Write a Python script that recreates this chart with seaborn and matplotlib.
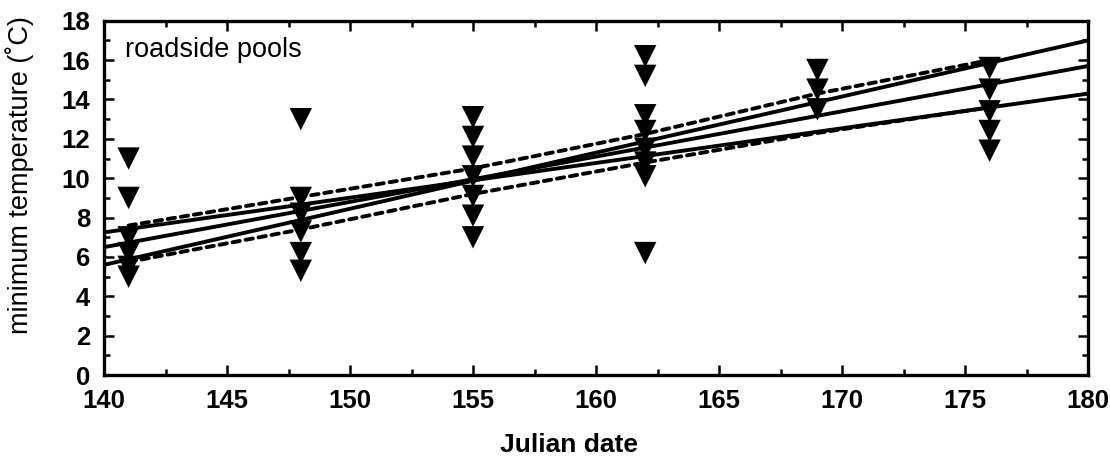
import numpy as np
import pandas as pd
import matplotlib
matplotlib.use("Agg")
import matplotlib.pyplot as plt
import seaborn as sns
from matplotlib.ticker import MultipleLocator

# ---- data ----
dates = [141, 148, 155, 162, 169, 176]
temps_141 = [11.0, 9.0, 7.0, 6.2, 5.5, 5.0]
temps_148 = [13.0, 9.0, 8.2, 7.3, 6.2, 5.3]
temps_155 = [13.1, 12.1, 11.1, 10.1, 9.1, 8.1, 7.0]
temps_162 = [16.2, 15.2, 13.2, 12.4, 11.5, 10.8, 10.1, 6.2]
temps_169 = [15.5, 14.5, 13.5]
temps_176 = [15.6, 14.5, 13.4, 12.4, 11.4]

fit_x = [140, 180]
fit_steep = [5.6, 17.0]
fit_mid = [6.5, 15.7]
fit_shallow = [7.25, 14.3]

band_x = [141, 148, 155, 162, 169, 176]
band_upper = [7.6, 9.05, 10.5, 12.25, 14.3, 16.0]
band_lower = [5.75, 7.4, 9.2, 10.8, 12.3, 13.6]

x_ticks = [140, 145, 150, 155, 160, 165, 170, 175, 180]
y_ticks = [0, 2, 4, 6, 8, 10, 12, 14, 16, 18]

# ---- build tables ----
all_temps = [temps_141, temps_148, temps_155, temps_162, temps_169, temps_176]
pts = pd.DataFrame(
    [(d, t) for d, ts in zip(dates, all_temps) for t in ts],
    columns=["date", "temp"],
)

sns.set_theme(style="ticks")
plt.rcParams["font.family"] = ["Liberation Sans", "DejaVu Sans"]
plt.rcParams.update({
    "text.color": "black",
    "axes.labelcolor": "black",
    "xtick.color": "black",
    "ytick.color": "black",
    "axes.edgecolor": "black",
})

fig = plt.figure(figsize=(11.1, 4.66), dpi=100)
ax = fig.add_axes([0.0937, 0.195, 0.8865, 0.7605])

lw = 2.8
for vals in (fit_steep, fit_mid, fit_shallow):
    sns.lineplot(x=fit_x, y=vals, ax=ax, color="black", linewidth=lw,
                 solid_capstyle="butt")
for vals in (band_upper, band_lower):
    sns.lineplot(x=band_x, y=vals, ax=ax, color="black", linewidth=lw,
                 linestyle=(0, (1.9, 1.5)), dash_capstyle="round")

sns.scatterplot(data=pts, x="date", y="temp", ax=ax, marker="v", s=260,
                color="black", edgecolor="none", zorder=5)

ax.set_xlim(140, 180)
ax.set_ylim(0, 18)
ax.set_xticks(x_ticks)
ax.set_yticks(y_ticks)
ax.xaxis.set_minor_locator(MultipleLocator(2.5))
ax.yaxis.set_minor_locator(MultipleLocator(1))
ax.tick_params(which="both", direction="in", top=True, right=True,
               color="black", labelcolor="black", width=1.8)
ax.tick_params(which="major", length=7, labelsize=18.5, pad=10)
ax.tick_params(which="minor", length=4)
for lab in ax.get_xticklabels() + ax.get_yticklabels():
    lab.set_fontweight("bold")

for sp in ax.spines.values():
    sp.set_linewidth(2.4)
    sp.set_color("black")

ax.set_xlabel("Julian date", fontsize=19, fontweight="bold", va="center",
              color="black")
ax.xaxis.set_label_coords(0.4726, -0.198)
ax.set_ylabel("minimum temperature (\u02daC)", fontsize=19.5, va="center",
              ha="center", color="black")
ax.yaxis.set_label_coords(-0.0854, 0.5645)

ax.text(0.0213, 0.917, "roadside pools", transform=ax.transAxes,
        fontsize=19.5, va="center", ha="left", color="black")

fig.savefig("out.png", dpi=100)
